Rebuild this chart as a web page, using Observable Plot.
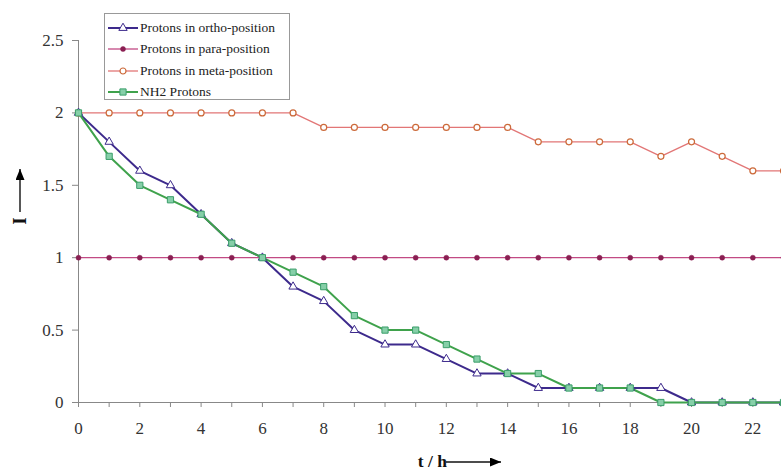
<!DOCTYPE html>
<html>
<head>
<meta charset="utf-8">
<script src="https://cdn.jsdelivr.net/npm/d3@7"></script>
<script src="https://cdn.jsdelivr.net/npm/@observablehq/plot@0.6"></script>
<style>
  html, body { margin: 0; padding: 0; background: #fff; }
  #wrap { position: relative; width: 781px; height: 471px; }
  #legend {
    position: absolute; left: 104px; top: 13px; width: 186px; height: 87px;
    border: 1px solid #999; background: #fff; box-sizing: border-box;
    font-family: "Liberation Serif", "Times New Roman", serif; font-size: 13.5px; color: #222;
    padding-top: 3px;
  }
  #legend .row { display: flex; align-items: center; height: 21.5px; }
  #legend svg { margin-left: 2px; margin-right: 1px; }
</style>
</head>
<body>
<div id="wrap"><div id="legend"></div></div>
<script>
const hours = d3.range(0, 24);
const ortho = [2, 1.8, 1.6, 1.5, 1.3, 1.1, 1.0, 0.8, 0.7, 0.5, 0.4, 0.4, 0.3, 0.2, 0.2, 0.1, 0.1, 0.1, 0.1, 0.1, 0, 0, 0, 0];
const para  = [1, 1, 1, 1, 1, 1, 1, 1, 1, 1, 1, 1, 1, 1, 1, 1, 1, 1, 1, 1, 1, 1, 1, 1];
const meta  = [2, 2, 2, 2, 2, 2, 2, 2, 1.9, 1.9, 1.9, 1.9, 1.9, 1.9, 1.9, 1.8, 1.8, 1.8, 1.8, 1.7, 1.8, 1.7, 1.6, 1.6];
const nh2   = [2, 1.7, 1.5, 1.4, 1.3, 1.1, 1.0, 0.9, 0.8, 0.6, 0.5, 0.5, 0.4, 0.3, 0.2, 0.2, 0.1, 0.1, 0.1, 0, 0, 0, 0, 0];

const seriesNames = ["Protons in ortho-position", "Protons in para-position", "Protons in meta-position", "NH2 Protons"];
const yTicks = [0, 0.5, 1, 1.5, 2, 2.5];

const styles = [
  {name: seriesNames[0], values: ortho, line: "#3d2a8c", lw: 2, symbol: "triangle", r: 3.1, fill: "#fff", stroke: "#3d2a8c", sw: 1},
  {name: seriesNames[1], values: para,  line: "#c24a84", lw: 1.3, symbol: "circle", r: 2.5, fill: "#8a1f52", stroke: "#8a1f52", sw: 0.5},
  {name: seriesNames[2], values: meta,  line: "#e27676", lw: 1.3, symbol: "circle", r: 3.0, fill: "#fff", stroke: "#cc6a3a", sw: 1.2},
  {name: seriesNames[3], values: nh2,   line: "#3fa24c", lw: 2, symbol: "square", r: 3.5, fill: "#86cfa8", stroke: "#3a9e6a", sw: 1}
];

const tables = styles.map(s => hours.map((t, i) => ({t, v: s.values[i], series: s.name})));

const font = "'Liberation Serif', 'Times New Roman', serif";
const marks = [
  Plot.ruleY([0], {stroke: "#888", strokeWidth: 1}),
  Plot.ruleX([0], {y1: 0, y2: 2.5, stroke: "#888", strokeWidth: 1}),
  Plot.axisY(yTicks, {tickSize: 6, tickPadding: 9, tickFormat: d => String(d), fontSize: 17, fill: "#333", stroke: "#888", label: null}),
  Plot.axisX(hours, {tickSize: 5, tickPadding: 14, tickFormat: d => (d % 2 === 0 && d <= 22) ? String(d) : "", fontSize: 17, fill: "#333", stroke: "#888", label: null})
];
const order = [1, 2, 0, 3];
for (const k of order) {
  const s = styles[k];
  marks.push(Plot.line(tables[k], {x: "t", y: "v", stroke: s.line, strokeWidth: s.lw}));
}
for (const k of order) {
  const s = styles[k];
  marks.push(Plot.dot(tables[k], {x: "t", y: "v", symbol: s.symbol, r: s.r, fill: s.fill, stroke: s.stroke, strokeWidth: s.sw}));
}

const chart = Plot.plot({
  width: 781,
  height: 471,
  marginLeft: 78,
  marginRight: -2,
  marginTop: 40,
  marginBottom: 69,
  style: {fontFamily: font, background: "#fff", overflow: "hidden"},
  x: {domain: [0, 23], axis: null},
  y: {domain: [0, 2.5], axis: null},
  marks
});

const svg = d3.select(chart);
svg.selectAll("text").style("font-family", font);
const defs = svg.append("defs");
defs.append("marker").attr("id", "arr").attr("viewBox", "0 0 10 10").attr("refX", 10).attr("refY", 5)
  .attr("markerWidth", 11).attr("markerHeight", 9).attr("markerUnits", "userSpaceOnUse").attr("orient", "auto")
  .attr("preserveAspectRatio", "none")
  .append("path").attr("d", "M0,0 L10,5 L0,10 z").attr("fill", "#000");

const xl = svg.append("g");
xl.append("text").attr("x", 447).attr("y", 467).attr("text-anchor", "end").style("font-family", font).attr("font-size", 17.5)
  .attr("font-weight", "bold").attr("fill", "#111").text("t / h");
xl.append("line").attr("x1", 446).attr("x2", 501).attr("y1", 462).attr("y2", 462)
  .attr("stroke", "#111").attr("stroke-width", 1.4).attr("marker-end", "url(#arr)");

const yl = svg.append("g");
yl.append("text").attr("transform", "translate(26,221) rotate(-90)").attr("text-anchor", "middle")
  .style("font-family", font).attr("font-size", 19).attr("font-weight", "bold").attr("fill", "#111").text("I");
yl.append("line").attr("x1", 20).attr("x2", 20).attr("y1", 212).attr("y2", 169)
  .attr("stroke", "#111").attr("stroke-width", 1.4).attr("marker-end", "url(#arr)");

document.getElementById("wrap").prepend(chart);

const legend = d3.select("#legend");
for (const s of styles) {
  const row = legend.append("div").attr("class", "row");
  const sw = row.append("svg").attr("width", 32).attr("height", 14);
  sw.append("line").attr("x1", 1).attr("x2", 31).attr("y1", 7).attr("y2", 7)
    .attr("stroke", s.line).attr("stroke-width", s.lw);
  const sym = d3.symbol().type(s.symbol === "triangle" ? d3.symbolTriangle : s.symbol === "square" ? d3.symbolSquare : d3.symbolCircle)
    .size(Math.PI * s.r * s.r);
  sw.append("path").attr("d", sym()).attr("transform", "translate(16,7)")
    .attr("fill", s.fill).attr("stroke", s.stroke).attr("stroke-width", s.sw);
  row.append("span").text(s.name);
}
</script>
</body>
</html>
